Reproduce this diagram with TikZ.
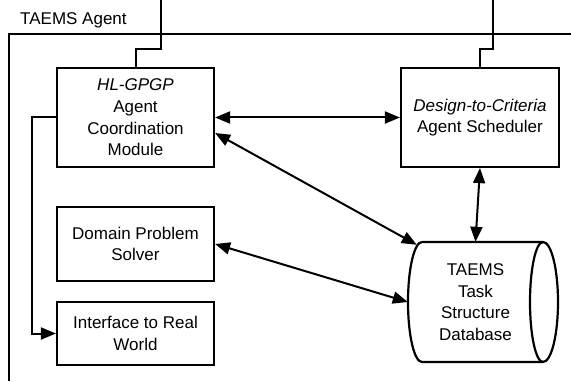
\documentclass[tikz,border=0pt]{standalone}
\usepackage{fontspec}
\setmainfont{Liberation Sans}
\usetikzlibrary{arrows.meta,calc}
\begin{document}
\begin{tikzpicture}[x=1pt,y=1pt,
  txt/.style={font=\fontsize{17}{21.7}\selectfont},
  module/.style={txt,draw,line width=2.2pt,inner sep=0pt,align=center},
  link/.style={line width=2pt},
  tip/.tip={Triangle[length=15pt,width=12pt]},
  onelink/.style={link,-tip},
  dlink/.style={link,tip-tip},
  frame/.style={line width=1.5pt}
]
\useasboundingbox (0,0) rectangle (571,381);

% agent boundary
\draw[frame] (571,347) -- (9,347) -- (9,0);
\node[txt,anchor=base west,inner sep=0pt] (agentlabel) at (20,356) {TAEMS Agent};

% modules
\node[module,minimum width=157pt,minimum height=99pt] (hl) at (135.5,263.5)
  {\textit{HL-GPGP}\\Agent\\Coordination\\Module};
\node[module,minimum width=158pt,minimum height=99pt] (ds) at (480,263.5)
  {\textit{Design-to-Criteria}\\Agent Scheduler};
\node[module,minimum width=157pt,minimum height=74pt] (dom) at (135.5,137)
  {Domain Problem\\Solver};
\node[module,minimum width=157pt,minimum height=63pt] (ifc) at (135.5,47.5)
  {Interface to Real\\World};

% task structure database
\node[txt,align=center,inner sep=0pt,minimum width=135pt,minimum height=120pt] (db) at (475.5,79)
  {TAEMS\\Task\\Structure\\Database};
\draw[module] (422,139) -- (543,139)
  arc[start angle=90,end angle=-90,x radius=15,y radius=60]
  -- (422,19)
  arc[start angle=270,end angle=90,x radius=14,y radius=60];
\draw[module] (543,139) arc[start angle=90,end angle=270,x radius=13,y radius=60];

% external connections
\coordinate (hlfeed) at (161,381);
\coordinate (dsfeed) at (493,381);
\draw[link] (hl.north) -- ++(0,18) -| (hlfeed);
\draw[link] (ds.north) -- ++(0,18) -| (dsfeed);

% internal connections
\draw[onelink] (hl.west) -- ++(-24,0) |- (ifc.west);
\draw[dlink] (hl.east) -- (ds.west);
\draw[dlink] ([yshift=-15.5pt]hl.east) -- ([xshift=9pt,yshift=-3pt]db.north west);
\draw[dlink] (dom.east) -- (db.west);
\draw[dlink] (ds.south) -- (db.north);
\end{tikzpicture}
\end{document}
